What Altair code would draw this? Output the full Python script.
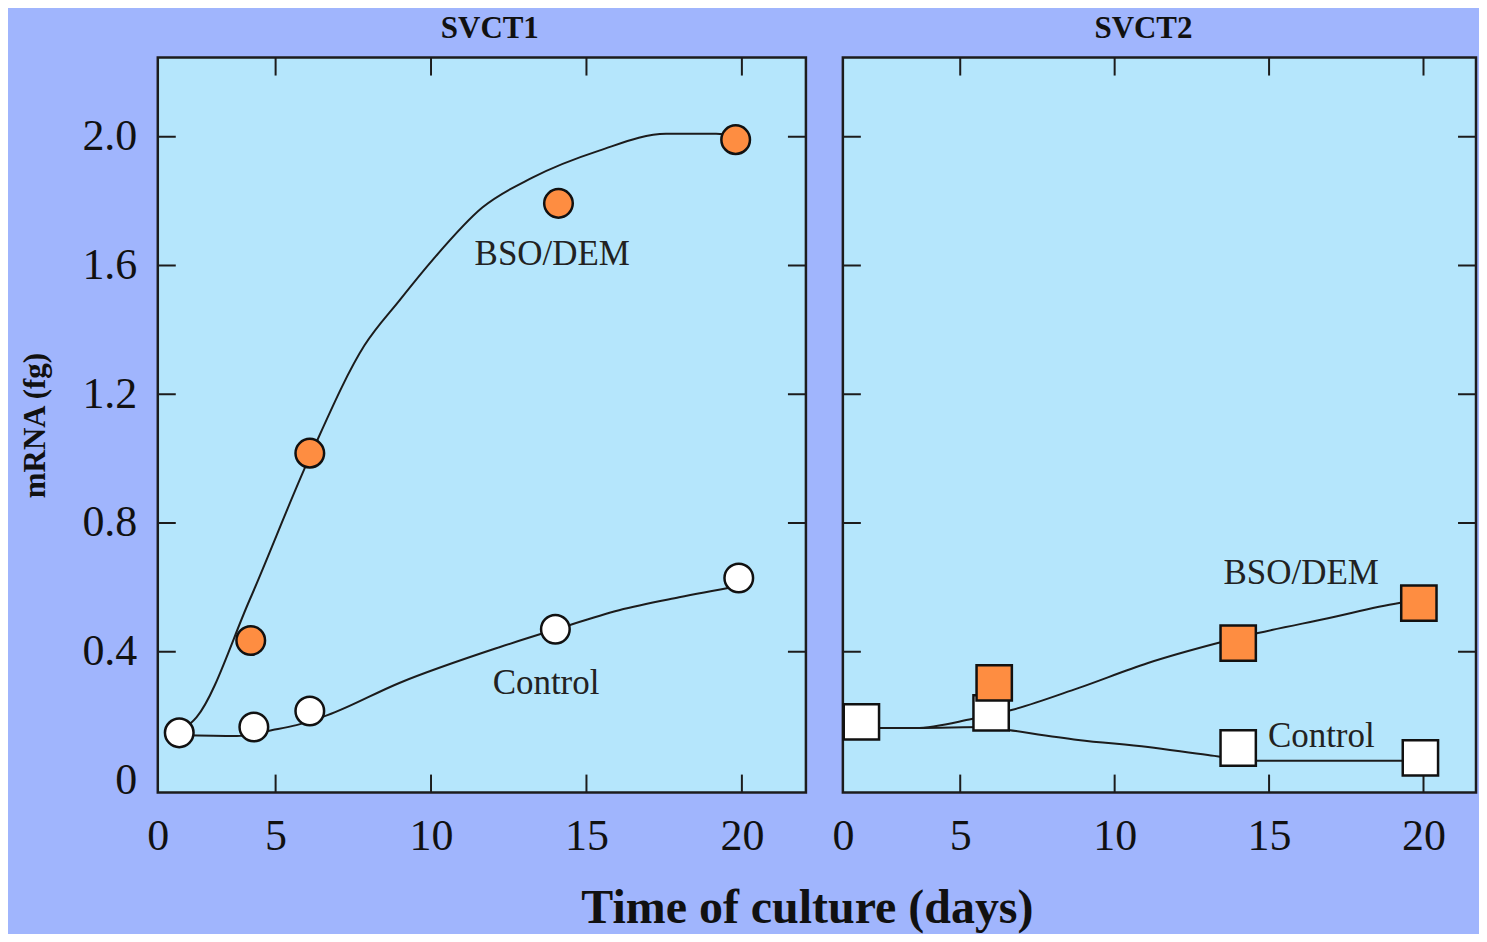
import altair as alt
import pandas as pd

# ---------------- data ----------------
# SVCT1 (circles)
svct1_bso_day = [4.2, 6.1, 14.1, 19.8]
svct1_bso_mrna = [0.435, 1.017, 1.793, 1.991]
svct1_ctl_day = [1.9, 4.3, 6.1, 14.0, 19.9]
svct1_ctl_mrna = [0.148, 0.166, 0.216, 0.47, 0.629]
svct1_bso_fit_day = [1.9, 2.46, 4.16, 6.12, 7.86, 8.98, 10.04, 11.65, 13.26, 15.41, 17.56, 19.17, 19.78]
svct1_bso_fit_mrna = [0.15, 0.197, 0.56, 1.01, 1.352, 1.491, 1.616, 1.78, 1.873, 1.957, 2.009, 2.009, 2.003]
svct1_ctl_fit_day = [1.92, 3.75, 4.9, 5.67, 6.67, 8.98, 12.2, 14.03, 16.05, 17.98, 19.91]
svct1_ctl_fit_mrna = [0.141, 0.138, 0.157, 0.172, 0.203, 0.303, 0.414, 0.47, 0.529, 0.569, 0.604]

# SVCT2 (squares)
svct2_bso_day = [6.1, 14.0, 19.85]
svct2_bso_mrna = [0.303, 0.427, 0.551]
svct2_ctl_day = [1.8, 6.0, 14.0, 19.9]
svct2_ctl_mrna = [0.182, 0.21, 0.101, 0.07]
svct2_bso_fit_day = [1.84, 3.55, 5.37, 6.66, 8.82, 11.08, 13.34, 14.64, 16.91, 19.17, 19.85]
svct2_bso_fit_mrna = [0.163, 0.163, 0.191, 0.219, 0.287, 0.365, 0.427, 0.458, 0.504, 0.551, 0.56]
svct2_ctl_fit_day = [1.84, 3.55, 5.91, 6.56, 8.82, 11.08, 13.02, 14.64, 19.17, 19.88]
svct2_ctl_fit_mrna = [0.163, 0.163, 0.166, 0.157, 0.126, 0.104, 0.079, 0.061, 0.061, 0.064]

# in-plot labels
svct1_label_text = ["BSO/DEM", "Control"]
svct1_label_day = [13.9, 13.7]
svct1_label_mrna = [1.637, 0.303]
svct2_label_text = ["BSO/DEM", "Control"]
svct2_label_day = [16.04, 16.69]
svct2_label_mrna = [0.644, 0.138]

# axes
x_tick_values = [5, 10, 15, 20]
y_tick_values = [0.4, 0.8, 1.2, 1.6, 2.0]
y_label_values = [0, 0.4, 0.8, 1.2, 1.6, 2.0]
svct1_x_domain = [1.21, 22.06]
svct2_x_domain = [1.2, 21.7]
y_domain = [-0.0375, 2.246]

# ---------------- styling ----------------
SERIF = "Liberation Serif"
BG = "#a0b5fd"
PLOT_BG = "#b5e6fc"
ORANGE = "#fe8d41"
INK = "#1c1c1c"
H = 736
TICK = 18


def df(**cols):
    return pd.DataFrame(cols)


def make_panel(title, title_dx, width, x_domain, bso_day, bso_mrna, ctl_day, ctl_mrna,
               bso_fit_day, bso_fit_mrna, ctl_fit_day, ctl_fit_mrna,
               lab_text, lab_day, lab_mrna, shape, msize, show_y):
    xscale = alt.Scale(domain=x_domain, nice=False, zero=False)
    yscale = alt.Scale(domain=y_domain, nice=False, zero=False)
    xaxis = alt.Axis(
        values=[x_domain[0]] + x_tick_values,
        labelExpr="datum.value < 3 ? '0' : datum.label",
        ticks=False, domain=False, grid=False, title=None,
        labelFont=SERIF, labelFontSize=44, labelColor="#111",
        labelPadding=22, labelFlush=False, labelOverlap=False,
        labelBaseline="top",
    )
    if show_y:
        yaxis = alt.Axis(
            values=y_label_values,
            labelExpr="datum.value == 0 ? '0' : format(datum.value, '.1f')",
            ticks=False, domain=False, grid=False,
            title="mRNA (fg)", titleFont=SERIF, titleFontSize=31, titleFontWeight="bold",
            titleColor="#111", titlePadding=30,
            labelFont=SERIF, labelFontSize=44, labelColor="#111",
            labelPadding=21, labelOverlap=False,
        )
    else:
        yaxis = None

    X = lambda: alt.X("day:Q", scale=xscale, axis=xaxis)
    Y = lambda: alt.Y("mrna:Q", scale=yscale, axis=yaxis)

    layers = []
    # tick marks (inward, all four sides)
    xt = df(day=x_tick_values)
    yt = df(mrna=y_tick_values)
    layers.append(alt.Chart(xt).mark_rule(color=INK, strokeWidth=2).encode(
        x=X(), y=alt.value(0), y2=alt.value(TICK)))
    layers.append(alt.Chart(xt).mark_rule(color=INK, strokeWidth=2).encode(
        x=X(), y=alt.value(H - TICK), y2=alt.value(H)))
    layers.append(alt.Chart(yt).mark_rule(color=INK, strokeWidth=2).encode(
        y=Y(), x=alt.value(0), x2=alt.value(TICK)))
    layers.append(alt.Chart(yt).mark_rule(color=INK, strokeWidth=2).encode(
        y=Y(), x=alt.value(width - TICK), x2=alt.value(width)))
    # fitted curves
    layers.append(alt.Chart(df(day=ctl_fit_day, mrna=ctl_fit_mrna)).mark_line(
        color=INK, strokeWidth=2, interpolate="monotone").encode(x=X(), y=Y()))
    layers.append(alt.Chart(df(day=bso_fit_day, mrna=bso_fit_mrna)).mark_line(
        color=INK, strokeWidth=2, interpolate="monotone").encode(x=X(), y=Y()))
    # points
    layers.append(alt.Chart(df(day=ctl_day, mrna=ctl_mrna)).mark_point(
        shape=shape, filled=True, fill="white", stroke="#111", strokeWidth=2.5,
        size=msize, opacity=1).encode(x=X(), y=Y()))
    layers.append(alt.Chart(df(day=bso_day, mrna=bso_mrna)).mark_point(
        shape=shape, filled=True, fill=ORANGE, stroke="#111", strokeWidth=2.5,
        size=msize, opacity=1).encode(x=X(), y=Y()))
    # labels
    layers.append(alt.Chart(df(day=lab_day, mrna=lab_mrna, label=lab_text)).mark_text(
        font=SERIF, fontSize=35, color="#222").encode(x=X(), y=Y(), text="label:N"))

    return alt.layer(*layers).properties(
        width=width, height=H,
        title=alt.Title(title, font=SERIF, fontSize=31, fontWeight="bold", color="#111",
                        anchor="middle", frame="group", dx=title_dx, offset=12),
    )


left = make_panel("SVCT1", 8, 649, svct1_x_domain,
                  svct1_bso_day, svct1_bso_mrna, svct1_ctl_day, svct1_ctl_mrna,
                  svct1_bso_fit_day, svct1_bso_fit_mrna, svct1_ctl_fit_day, svct1_ctl_fit_mrna,
                  svct1_label_text, svct1_label_day, svct1_label_mrna, "circle", 820, True)
right = make_panel("SVCT2", -16, 634, svct2_x_domain,
                   svct2_bso_day, svct2_bso_mrna, svct2_ctl_day, svct2_ctl_mrna,
                   svct2_bso_fit_day, svct2_bso_fit_mrna, svct2_ctl_fit_day, svct2_ctl_fit_mrna,
                   svct2_label_text, svct2_label_day, svct2_label_mrna, "square", 1250, False)

chart = alt.hconcat(left, right, spacing=37, bounds="flush").properties(
    background=BG,
    padding={"left": 10, "top": 2, "right": 0, "bottom": 0},
    title=alt.Title("Time of culture (days)", orient="bottom", anchor="middle",
                    font=SERIF, fontSize=48, fontWeight="bold", color="#111",
                    dx=59, offset=25),
).configure_view(stroke=INK, strokeWidth=2.5, fill=PLOT_BG)

chart.save("out.html", embed_options={"renderer": "svg", "actions": False})
